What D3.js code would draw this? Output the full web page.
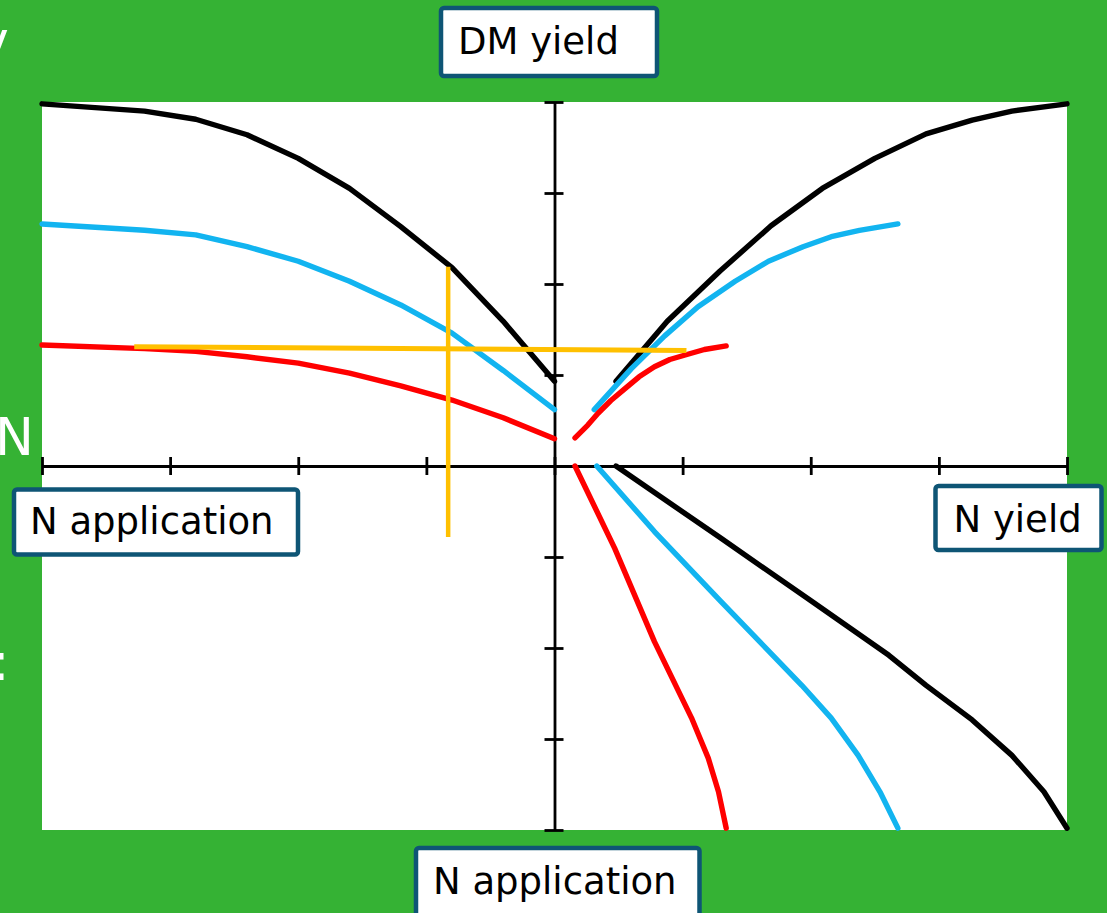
<!DOCTYPE html>
<html>
<head>
<meta charset="utf-8">
<script src="https://cdn.jsdelivr.net/npm/d3@7"></script>
<style>
  html, body { margin: 0; padding: 0; background: #35B234; overflow: hidden; }
  svg { display: block; }
</style>
</head>
<body>
<svg id="chart" width="1107" height="913"></svg>
<script>
// ---- Data (axis units: each tick = 1 unit) ----
const tickValues = [-4, -3, -2, -1, 0, 1, 2, 3, 4];

// Upper-left quadrant: N application (to the left) vs DM yield (up)
const appLeft   = [0, 0.4, 0.8, 1.2, 1.6, 2.0, 2.4, 2.8, 3.2, 4.0];
const dmBlackL  = [0.93, 1.59, 2.18, 2.63, 3.05, 3.38, 3.64, 3.81, 3.90, 3.98];
const dmBlueL   = [0.62, 1.05, 1.46, 1.77, 2.03, 2.25, 2.41, 2.54, 2.59, 2.66];
const dmRedL    = [0.30, 0.53, 0.725, 0.88, 1.02, 1.13, 1.20, 1.26, 1.29, 1.33];

// Upper-right quadrant: N yield (right) vs DM yield (up)
const nyBlackR  = [0.48, 0.88, 1.29, 1.69, 2.09, 2.50, 2.90, 3.26, 3.57, 4.00];
const dmBlackR  = [0.93, 1.59, 2.14, 2.64, 3.05, 3.38, 3.65, 3.80, 3.90, 3.98];
const nyBlueR   = [0.31, 0.60, 0.86, 1.12, 1.41, 1.67, 1.94, 2.16, 2.38, 2.68];
const dmBlueR   = [0.62, 1.07, 1.43, 1.75, 2.03, 2.25, 2.41, 2.52, 2.59, 2.66];
const nyRedR    = [0.16, 0.26, 0.34, 0.44, 0.55, 0.66, 0.78, 0.90, 1.02, 1.17, 1.34];
const dmRedR    = [0.31, 0.45, 0.58, 0.72, 0.85, 0.98, 1.09, 1.17, 1.22, 1.28, 1.32];

// Lower-right quadrant: N yield (right) vs N application (down)
const nyBlackD  = [0.48, 1.30, 2.01, 2.61, 2.90, 3.26, 3.57, 3.82, 4.00];
const appBlackD = [0, 0.795, 1.49, 2.08, 2.41, 2.79, 3.18, 3.58, 3.98];
const nyBlueD   = [0.33, 0.78, 1.30, 1.93, 2.16, 2.37, 2.54, 2.68];
const appBlueD  = [0, 0.72, 1.49, 2.41, 2.77, 3.18, 3.58, 3.98];
const nyRedD    = [0.16, 0.47, 0.78, 1.07, 1.20, 1.28, 1.34];
const appRedD   = [0, 0.905, 1.93, 2.77, 3.21, 3.58, 3.98];

// Orange reading guides
const guideHx = [-3.28, 1.03];
const guideHy = [1.31, 1.27];
const guideVx = [-0.83, -0.83];
const guideVy = [2.19, -0.78];

// Axis title labels
const labels = [
  { text: "DM yield",      box: [441, 8, 216, 68],   tx: 458, ty: 53.5 },
  { text: "N application", box: [14, 489.5, 284, 65], tx: 30,  ty: 534 },
  { text: "N yield",       box: [935.5, 486, 166, 64], tx: 953.5, ty: 531.5 },
  { text: "N application", box: [416, 848, 283.5, 80], tx: 433, ty: 893.5 }
];

// ---- Drawing ----
const svg = d3.select("#chart");
const x = d3.scaleLinear().domain([-4, 4]).range([42, 1067]);
const y = d3.scaleLinear().domain([-4, 4]).range([830, 102]);

// Background
svg.append("rect").attr("x", 0).attr("y", 0).attr("width", 1107).attr("height", 913).attr("fill", "#35B234");

// Cut-off slide text on left edge
const slide = svg.append("g").attr("fill", "#ffffff").attr("font-family", "DejaVu Sans, Verdana, sans-serif").attr("font-size", 52);
slide.append("text").attr("x", -22).attr("y", 58).text("v");
slide.append("text").attr("x", -5).attr("y", 455).text("N");
slide.append("text").attr("x", -8).attr("y", 680).text(":");

// Plot area
svg.append("rect").attr("x", x(-4)).attr("y", y(4)).attr("width", x(4) - x(-4)).attr("height", y(-4) - y(4)).attr("fill", "#ffffff");

// Axes through origin
const xAxis = d3.axisBottom(x).tickValues(tickValues).tickSizeInner(9).tickSizeOuter(0).tickFormat("");
const yAxis = d3.axisLeft(y).tickValues(tickValues).tickSizeInner(9).tickSizeOuter(0).tickFormat("");

const gx = svg.append("g").attr("transform", `translate(0,${y(0)})`).call(xAxis);
gx.selectAll(".tick line").attr("y1", -9).attr("y2", 9);
const gy = svg.append("g").attr("transform", `translate(${x(0)},0)`).call(yAxis);
gy.selectAll(".tick line").attr("x1", -10).attr("x2", 9);
[gx, gy].forEach(g => {
  g.select(".domain").attr("stroke", "#000").attr("stroke-width", 2.8);
  g.selectAll(".tick line").attr("stroke", "#000").attr("stroke-width", 2.8);
});

const line = d3.line().x(d => x(d[0])).y(d => y(d[1])).curve(d3.curveLinear);

function drawCurve(xs, ys, color, width) {
  const pts = xs.map((v, i) => [v, ys[i]]);
  svg.append("path").datum(pts).attr("d", line)
    .attr("fill", "none").attr("stroke", color).attr("stroke-width", width)
    .attr("stroke-linecap", "round").attr("stroke-linejoin", "round");
}

const BLACK = "#000000", BLUE = "#12B4F0", RED = "#FF0000", ORANGE = "#FFC000";
const W = 5.4;
const neg = a => a.map(v => -v);

// Upper-left
drawCurve(neg(appLeft), dmBlackL, BLACK, W);
drawCurve(neg(appLeft), dmBlueL, BLUE, W);
drawCurve(neg(appLeft), dmRedL, RED, W);
// Upper-right
drawCurve(nyBlackR, dmBlackR, BLACK, W);
drawCurve(nyBlueR, dmBlueR, BLUE, W);
drawCurve(nyRedR, dmRedR, RED, W);
// Lower-right
drawCurve(nyBlackD, neg(appBlackD), BLACK, W);
drawCurve(nyBlueD, neg(appBlueD), BLUE, W);
drawCurve(nyRedD, neg(appRedD), RED, W);

// Orange guides
svg.append("path").datum(guideHx.map((v, i) => [v, guideHy[i]])).attr("d", line)
  .attr("fill", "none").attr("stroke", ORANGE).attr("stroke-width", 5);
svg.append("path").datum(guideVx.map((v, i) => [v, guideVy[i]])).attr("d", line)
  .attr("fill", "none").attr("stroke", ORANGE).attr("stroke-width", 4.5);

// Label boxes
const lg = svg.append("g");
labels.forEach(l => {
  lg.append("rect").attr("x", l.box[0]).attr("y", l.box[1]).attr("width", l.box[2]).attr("height", l.box[3])
    .attr("rx", 3).attr("fill", "#ffffff").attr("stroke", "#0E5575").attr("stroke-width", 4.5);
  lg.append("text").attr("x", l.tx).attr("y", l.ty).attr("font-family", "DejaVu Sans, Verdana, sans-serif")
    .attr("font-size", 37).attr("fill", "#000").text(l.text);
});
</script>
</body>
</html>
